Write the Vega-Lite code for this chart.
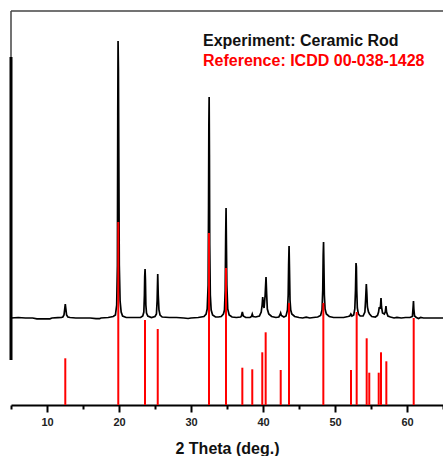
{
  "$schema": "https://vega.github.io/schema/vega-lite/v6.json",
  "autosize": {"type": "none"},
  "padding": {"left": 11, "top": 11, "right": 0, "bottom": 51},
  "width": 432,
  "height": 394,
  "background": "white",
  "config": {"view": {"stroke": null}, "font": "Liberation Sans"},
  "datasets": {
    "exp": [
      {"t":5.0,"i":87},{"t":6.0,"i":87.5},{"t":7.0,"i":87},{"t":8.0,"i":87},{"t":8.6,"i":86.2},{"t":10.4,"i":86.2},{"t":10.7,"i":87},{"t":11.5,"i":87.3},{"t":12.0,"i":87.5},
      {"t":12.2,"i":88},{"t":12.36,"i":90},{"t":12.46,"i":96},{"t":12.54,"i":101},{"t":12.62,"i":96},{"t":12.72,"i":90},{"t":12.9,"i":88},{"t":13.2,"i":87.5},
      {"t":14.0,"i":87},{"t":16.0,"i":87},{"t":16.8,"i":86.3},{"t":17.3,"i":86.3},{"t":17.5,"i":87},{"t":18.5,"i":87.5},{"t":19.2,"i":88.5},
      {"t":19.5,"i":90},{"t":19.68,"i":100},{"t":19.78,"i":140},{"t":19.83,"i":290},{"t":19.87,"i":364},{"t":19.92,"i":335},{"t":19.97,"i":250},{"t":20.04,"i":140},{"t":20.15,"i":104},{"t":20.3,"i":93},{"t":20.5,"i":89},
      {"t":21.0,"i":87.5},{"t":22.0,"i":87.5},{"t":23.0,"i":87.5},{"t":23.3,"i":89},
      {"t":23.45,"i":93},{"t":23.53,"i":110},{"t":23.57,"i":128},{"t":23.62,"i":136},{"t":23.67,"i":125},{"t":23.73,"i":100},{"t":23.82,"i":92},{"t":24.0,"i":89},{"t":24.5,"i":87.5},
      {"t":25.0,"i":88.5},{"t":25.2,"i":91},{"t":25.3,"i":105},{"t":25.38,"i":131},{"t":25.45,"i":110},{"t":25.55,"i":95},{"t":25.7,"i":90},{"t":26.0,"i":88},
      {"t":27.0,"i":87.5},{"t":28.0,"i":87.5},{"t":29.0,"i":87},{"t":29.6,"i":86.5},{"t":30.0,"i":87},{"t":31.0,"i":87.5},{"t":31.8,"i":88.5},{"t":32.1,"i":91},
      {"t":32.25,"i":96},{"t":32.38,"i":120},{"t":32.44,"i":200},{"t":32.48,"i":280},{"t":32.52,"i":308},{"t":32.56,"i":250},{"t":32.6,"i":160},{"t":32.68,"i":110},{"t":32.8,"i":95},{"t":33.0,"i":90},
      {"t":33.4,"i":88},{"t":33.8,"i":88},{"t":34.2,"i":88.5},{"t":34.5,"i":91},
      {"t":34.65,"i":95},{"t":34.75,"i":115},{"t":34.82,"i":170},{"t":34.87,"i":197},{"t":34.92,"i":160},{"t":34.98,"i":120},{"t":35.1,"i":96},{"t":35.3,"i":90},{"t":35.7,"i":88},
      {"t":36.3,"i":87.5},{"t":36.9,"i":88},{"t":37.0,"i":89},{"t":37.13,"i":93},{"t":37.26,"i":89},{"t":37.6,"i":87.5},{"t":38.2,"i":87.5},{"t":38.4,"i":88.5},{"t":38.51,"i":91},{"t":38.62,"i":88.5},
      {"t":39.0,"i":88},{"t":39.5,"i":89},{"t":39.75,"i":93},{"t":39.88,"i":100},{"t":39.96,"i":108},{"t":40.05,"i":100},{"t":40.15,"i":97},{"t":40.3,"i":110},{"t":40.42,"i":128},{"t":40.5,"i":112},{"t":40.6,"i":96},{"t":40.8,"i":91},
      {"t":41.2,"i":88.5},{"t":41.8,"i":87.5},{"t":42.2,"i":88},{"t":42.35,"i":90},{"t":42.45,"i":92},{"t":42.55,"i":89.5},{"t":42.9,"i":88},{"t":43.2,"i":89},
      {"t":43.4,"i":95},{"t":43.5,"i":110},{"t":43.56,"i":140},{"t":43.62,"i":159},{"t":43.68,"i":135},{"t":43.75,"i":105},{"t":43.85,"i":95},{"t":44.0,"i":91},{"t":44.4,"i":88.5},
      {"t":45.0,"i":87.5},{"t":45.5,"i":87},{"t":46.0,"i":87.8},{"t":46.5,"i":87},{"t":47.0,"i":87.5},{"t":47.6,"i":88},{"t":48.0,"i":89.5},
      {"t":48.2,"i":95},{"t":48.3,"i":115},{"t":48.36,"i":150},{"t":48.41,"i":163},{"t":48.46,"i":140},{"t":48.52,"i":110},{"t":48.62,"i":96},{"t":48.8,"i":91},{"t":49.2,"i":88.5},
      {"t":49.8,"i":87.5},{"t":50.5,"i":87.5},{"t":51.2,"i":87.5},{"t":51.8,"i":88.5},{"t":52.05,"i":89},{"t":52.2,"i":91},{"t":52.35,"i":89},{"t":52.6,"i":90},
      {"t":52.75,"i":96},{"t":52.85,"i":115},{"t":52.92,"i":142},{"t":52.97,"i":138},{"t":53.02,"i":115},{"t":53.1,"i":97},{"t":53.25,"i":91},{"t":53.5,"i":89},{"t":53.9,"i":89},
      {"t":54.15,"i":93},{"t":54.25,"i":105},{"t":54.35,"i":121},{"t":54.42,"i":112},{"t":54.5,"i":98},{"t":54.65,"i":93},{"t":54.8,"i":91},{"t":55.1,"i":88.5},{"t":55.6,"i":88},
      {"t":55.9,"i":89.5},{"t":56.05,"i":93},{"t":56.15,"i":98},{"t":56.25,"i":96},{"t":56.33,"i":100},{"t":56.39,"i":107},{"t":56.46,"i":98},{"t":56.6,"i":92},{"t":56.85,"i":91},
      {"t":56.98,"i":93},{"t":57.08,"i":99},{"t":57.16,"i":93},{"t":57.35,"i":89},{"t":57.7,"i":88},{"t":58.2,"i":87},{"t":58.6,"i":87.6},{"t":59.2,"i":87},{"t":59.8,"i":87.5},{"t":60.4,"i":87.5},
      {"t":60.75,"i":88.5},{"t":60.85,"i":98},{"t":60.9,"i":104},{"t":60.95,"i":96},{"t":61.05,"i":89},{"t":61.3,"i":87.5},{"t":61.6,"i":86.5},{"t":61.9,"i":87.5},{"t":62.3,"i":87},{"t":63.0,"i":87},{"t":65.0,"i":87}
    ],
    "ref": [
      {"t":12.54,"i":46.7},{"t":19.9,"i":183},{"t":23.61,"i":85},{"t":25.38,"i":76},{"t":32.5,"i":172},{"t":34.86,"i":137},
      {"t":37.13,"i":37.3},{"t":38.51,"i":35.7},{"t":39.9,"i":52.7},{"t":40.37,"i":72.7},{"t":42.46,"i":35},{"t":43.61,"i":102},
      {"t":48.38,"i":102},{"t":52.22,"i":35},{"t":53.01,"i":93},{"t":54.4,"i":66.7},{"t":54.76,"i":32.3},{"t":56.07,"i":32.3},
      {"t":56.39,"i":52.7},{"t":57.13,"i":43.7},{"t":60.93,"i":87}
    ],
    "labels": [
      {"t":31.67,"i":359,"text":"Experiment: Ceramic Rod","series":"Experiment"},
      {"t":31.67,"i":339,"text":"Reference: ICDD 00-038-1428","series":"Reference"}
    ],
    "edge": [{"t":5,"i0":45,"i1":348}],
    "borderTop": [{"t0":5,"t1":65.5,"i":394}],
    "borderLeft": [{"t":5,"i0":348,"i1":394}]
  },
  "resolve": {"axis": {"x": "independent", "y": "independent"}},
  "layer": [
    {
      "data": {"name": "exp"},
      "mark": {"type": "line", "color": "#000", "strokeWidth": 1.7, "interpolate": "linear"},
      "encoding": {
        "x": {"field": "t", "type": "quantitative", "scale": {"domain": [5, 65], "nice": false, "zero": false},
          "axis": {"orient": "bottom", "values": [5,10,15,20,25,30,35,40,45,50,55,60,65],
            "labelExpr": "datum.value % 10 === 0 && datum.value < 65 ? datum.label : ''",
            "domainColor": "#000", "domainWidth": 2, "tickColor": "#000", "tickWidth": 2,
            "tickSize": {"condition": {"test": "datum.value % 10 === 0", "value": 7}, "value": 4},
            "labelFont": "Liberation Sans", "labelFontWeight": "bold", "labelFontSize": 11, "labelColor": "#222", "labelPadding": 4,
            "grid": false, "title": "2 Theta (deg.)", "titleFont": "Liberation Sans", "titleFontWeight": "bold", "titleFontSize": 16, "titleColor": "#111",
            "titleY": 48, "titleBaseline": "alphabetic"}},
        "y": {"field": "i", "type": "quantitative", "scale": {"domain": [0, 394], "nice": false}, "axis": null},
        "order": {"field": "t", "type": "quantitative"}
      }
    },
    {
      "data": {"name": "borderTop"},
      "mark": {"type": "rule", "color": "#444", "strokeWidth": 1.5},
      "encoding": {
        "x": {"field": "t0", "type": "quantitative", "axis": null},
        "x2": {"field": "t1"},
        "y": {"field": "i", "type": "quantitative", "axis": null}
      }
    },
    {
      "data": {"name": "borderLeft"},
      "mark": {"type": "rule", "color": "#444", "strokeWidth": 1.5},
      "encoding": {
        "x": {"field": "t", "type": "quantitative", "axis": null},
        "y": {"field": "i0", "type": "quantitative", "axis": null},
        "y2": {"field": "i1"}
      }
    },
    {
      "data": {"name": "edge"},
      "mark": {"type": "rule", "color": "#000", "strokeWidth": 3},
      "encoding": {
        "x": {"field": "t", "type": "quantitative", "axis": null},
        "y": {"field": "i0", "type": "quantitative", "axis": null},
        "y2": {"field": "i1"}
      }
    },
    {
      "data": {"name": "ref"},
      "mark": {"type": "rule", "color": "#ff0000", "strokeWidth": 2},
      "encoding": {
        "x": {"field": "t", "type": "quantitative", "axis": null},
        "y": {"field": "i", "type": "quantitative", "axis": null},
        "y2": {"datum": 0}
      }
    },
    {
      "data": {"name": "labels"},
      "mark": {"type": "text", "align": "left", "baseline": "alphabetic", "font": "Liberation Sans", "fontWeight": "bold", "fontSize": 16},
      "encoding": {
        "x": {"field": "t", "type": "quantitative", "axis": null},
        "y": {"field": "i", "type": "quantitative", "axis": null},
        "text": {"field": "text"},
        "color": {"field": "series", "type": "nominal", "scale": {"domain": ["Experiment", "Reference"], "range": ["#111111", "#ff0000"]}, "legend": null}
      }
    }
  ]
}
